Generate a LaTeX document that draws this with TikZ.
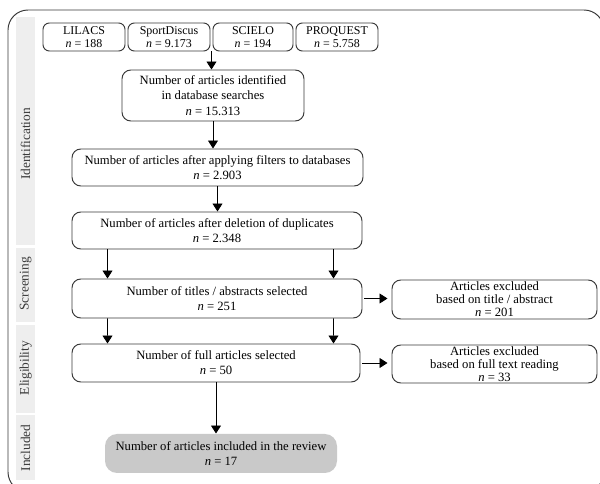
\documentclass[tikz,border=0pt]{standalone}
\usepackage{fontspec}
\setmainfont{Liberation Serif}
\usepackage{xcolor}
\usepackage{tikz}
\usetikzlibrary{arrows.meta,positioning,calc}

\definecolor{bandgray}{HTML}{EEEEEE}
\definecolor{inclgray}{HTML}{C9C9C9}
\definecolor{linegray}{HTML}{3A3A3A}

\begin{document}
\begin{tikzpicture}[
  box/.style={draw=linegray,line width=0.7pt,rounded corners=0.22cm,align=center,inner sep=1pt,font=\fontsize{9}{10.8}\selectfont},
  dbbox/.style={box,rounded corners=0.16cm,minimum width=2.05cm,minimum height=0.7cm,font=\fontsize{8.5}{9.3}\selectfont},
  exbox/.style={box,minimum width=5.125cm,font=\fontsize{9}{9.3}\selectfont},
  band/.style={fill=bandgray,draw=none},
  bandtext/.style={rotate=90,font=\fontsize{9.5}{11}\selectfont,text=linegray},
  arr/.style={line width=0.6pt,-{Triangle[width=0.25cm,length=0.2cm]}}
]
\useasboundingbox (0,0) rectangle (15,-12.1);
% frame and side bands
\draw[linegray,line width=0.7pt,rounded corners=0.5cm] (0.2,-0.25) rectangle (15.1,-12.3);
\fill[band] (0.4,-0.425) rectangle (0.875,-6.125);
\fill[band] (0.4,-6.2) rectangle (0.875,-8.05);
\fill[band] (0.4,-8.125) rectangle (0.875,-10.325);
\fill[band] (0.4,-10.375) rectangle (0.875,-12.0);
\node[bandtext] (lidentification) at (0.64,-3.6) {Identification};
\node[bandtext] (lscreening) at (0.64,-7.1) {Screening};
\node[bandtext] (leligibility) at (0.64,-9.2) {Eligibility};
\node[bandtext] (lincluded) at (0.64,-11.2) {Included};
% databases
\node[dbbox] (lilacs) at (2.1,-0.925) {LILACS\\\textit{n} = 188};
\node[dbbox] (sport) at (4.225,-0.925) {SportDiscus\\\textit{n} = 9.173};
\node[dbbox,minimum width=2.0cm] (scielo) at (6.325,-0.925) {SCIELO\\\textit{n} = 194};
\node[dbbox] (proquest) at (8.425,-0.925) {PROQUEST\\\textit{n} = 5.758};
\coordinate (dbjoin) at ($(sport.south east)!0.5!(scielo.south west)$);
% main flow
\node[box,minimum width=4.55cm,minimum height=1.275cm] (ident) at (5.325,-2.3875) {Number of articles identified\\in database searches\\\textit{n} = 15.313};
\node[box,minimum width=7.275cm,minimum height=0.925cm] (filt) at (5.4375,-4.1875) {Number of articles after applying filters to databases\\\textit{n} = 2.903};
\node[box,minimum width=7.25cm,minimum height=0.925cm] (dup) at (5.425,-5.7625) {Number of articles after deletion of duplicates\\\textit{n} = 2.348};
\node[box,minimum width=7.25cm,minimum height=0.975cm] (titles) at (5.425,-7.4625) {Number of titles / abstracts selected\\\textit{n} = 251};
\node[box,minimum width=7.2cm,minimum height=0.95cm] (full) at (5.4,-9.075) {Number of full articles selected\\\textit{n} = 50};
\node[box,draw=none,fill=inclgray,rounded corners=0.3cm,minimum width=5.8cm,minimum height=0.975cm] (incl) at (5.525,-11.3375) {Number of articles included in the review\\\textit{n} = 17};
% exclusions
\node[exbox,minimum height=0.975cm] (excltitle) at (12.3625,-7.4875) {Articles excluded\\based on title / abstract\\\textit{n} = 201};
\node[exbox,minimum height=0.95cm] (exclfull) at (12.3625,-9.1) {Articles excluded\\based on full text reading\\\textit{n} = 33};
% arrows
\draw[arr] (dbjoin) -- (dbjoin |- ident.north);
\draw[arr] (ident.south) -- (ident.south |- filt.north);
\draw[arr] (filt.south) -- (filt.south |- dup.north);
\draw[arr] ([xshift=0.9cm]dup.south west) -- ([xshift=0.9cm]titles.north west);
\draw[arr] ([xshift=-0.725cm]dup.south east) -- ([xshift=-0.725cm]titles.north east);
\draw[arr] ([xshift=0.9cm]titles.south west) -- ([xshift=0.9cm]full.north west);
\draw[arr] ([xshift=-0.725cm]titles.south east) -- ([xshift=-0.675cm]full.north east);
\draw[arr,shorten <=0.05cm,shorten >=0.1cm] (titles.east) -- (titles.east -| excltitle.west);
\draw[arr,shorten <=0.05cm,shorten >=0.1cm] (full.east) -- (full.east -| exclfull.west);
\draw[arr] (full.south) -- (full.south |- incl.north);
\end{tikzpicture}
\end{document}
